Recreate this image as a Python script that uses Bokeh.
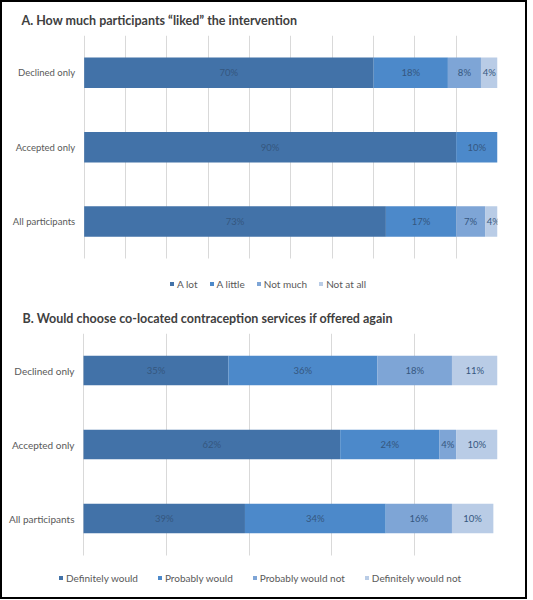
from bokeh.plotting import figure
from bokeh.models import Range1d, Legend, LegendItem, FixedTicker, ColumnDataSource, Grid
from bokeh.layouts import column
from bokeh.embed import file_html
from bokeh.resources import INLINE
from bokeh.core.properties import value

categories = ["Declined only", "Accepted only", "All participants"]

liked_names = ["A lot", "A little", "Not much", "Not at all"]
liked_a_lot = [70, 90, 73]
liked_a_little = [18, 10, 17]
liked_not_much = [8, 0, 7]
liked_not_at_all = [4, 0, 4]

choose_names = ["Definitely would", "Probably would", "Probably would not", "Definitely would not"]
choose_definitely = [35, 62, 39]
choose_probably = [36, 24, 34]
choose_probably_not = [18, 4, 16]
choose_definitely_not = [11, 10, 10]

title_a = "A. How much participants \u201cliked\u201d the intervention"
title_b = "B. Would choose co-located contraception services if offered again"

colors = ["#4272a8", "#4c89ca", "#7ea5d6", "#b9cce6"]
FONT = "Lato"
WIDTH = 523


def make_panel(title, names, series, height, min_top, min_bottom, bar_left, min_right,
               extra_units, bar_h, grid_step, ylab_size, title_offset, legend_loc, legend_spacing):
    n = len(categories)
    pos = [n - 1 - i for i in range(n)]
    px_per_unit = (WIDTH - min_right - bar_left) / 100.0
    x_start = -bar_left / px_per_unit
    p = figure(width=WIDTH, height=height,
               y_range=Range1d(-0.5 - extra_units, n - 0.5), x_range=Range1d(x_start, 100),
               output_backend="svg", toolbar_location=None,
               min_border_left=0, min_border_right=min_right,
               min_border_top=min_top, min_border_bottom=min_bottom)
    keys = [f"s{i}" for i in range(len(series))]
    data = {"pos": pos}
    for k, s in zip(keys, series):
        data[k] = s
    src = ColumnDataSource(data)
    rends = p.hbar_stack(keys, y="pos", height=bar_h, fill_color=colors, line_color=None, source=src)

    xs, ys, ts = [], [], []
    for j in range(n):
        acc = 0
        for s in series:
            v = s[j]
            if v > 0:
                xs.append(acc + v / 2)
                ys.append(pos[j])
                ts.append(f"{v}%")
            acc += v
    p.text(x=xs, y=ys, text=ts, text_font=value(FONT), text_font_size="9.5px",
           text_color="#35577f", text_align="center", text_baseline="middle")

    # category labels, right-aligned just left of the bars
    p.text(x=[0] * n, y=pos, text=categories, x_offset=-9, text_font=value(FONT),
           text_font_size=ylab_size, text_color="#595959", text_align="right",
           text_baseline="middle")

    p.title.text = title
    p.title.text_font = FONT
    p.title.text_font_size = "12.5px"
    p.title.text_font_style = "bold"
    p.title.text_color = "#404040"
    p.title.align = "left"
    p.title.offset = title_offset
    p.title.standoff = 16

    ticks = list(range(0, 101, grid_step))
    p.xaxis.visible = False
    p.yaxis.visible = False
    p.xgrid.ticker = FixedTicker(ticks=ticks)
    if "cross_bounds" in Grid.properties():
        p.xgrid.grid_line_color = "#d9d9d9"
        p.xgrid.cross_bounds = (-0.5, n - 0.5)
    else:
        p.xgrid.grid_line_color = None
        p.segment(x0=ticks, x1=ticks, y0=[-0.5] * len(ticks), y1=[n - 0.5] * len(ticks),
                  line_color="#d9d9d9", line_width=1, level="underlay")
    p.ygrid.grid_line_color = None
    p.outline_line_color = None
    p.background_fill_color = "white"
    p.border_fill_color = "white"

    legend = Legend(items=[LegendItem(label=nm, renderers=[r]) for nm, r in zip(names, rends)],
                    orientation="horizontal", location=legend_loc,
                    glyph_width=5, glyph_height=5, label_standoff=3, spacing=legend_spacing,
                    padding=0, margin=0, border_line_color=None, background_fill_alpha=0,
                    label_text_font=FONT, label_text_font_size="10px", label_text_color="#595959",
                    label_height=10)
    p.add_layout(legend, "center")
    return p


p1 = make_panel(title_a, liked_names,
                [liked_a_lot, liked_a_little, liked_not_much, liked_not_at_all],
                height=298, min_top=31, min_bottom=4, bar_left=82, min_right=26,
                extra_units=38 / 75, bar_h=0.41, grid_step=10, ylab_size="9.5px", title_offset=19,
                legend_loc=(167, 6.5), legend_spacing=11)
p2 = make_panel(title_b, choose_names,
                [choose_definitely, choose_probably, choose_probably_not, choose_definitely_not],
                height=297, min_top=33, min_bottom=3, bar_left=81, min_right=28,
                extra_units=39 / 74, bar_h=0.40, grid_step=20, ylab_size="10px", title_offset=20,
                legend_loc=(56, 10.5), legend_spacing=19)

layout = column(p1, p2, styles={"border": "2px solid #000"})
open("out.html", "w").write(file_html(layout, INLINE))
